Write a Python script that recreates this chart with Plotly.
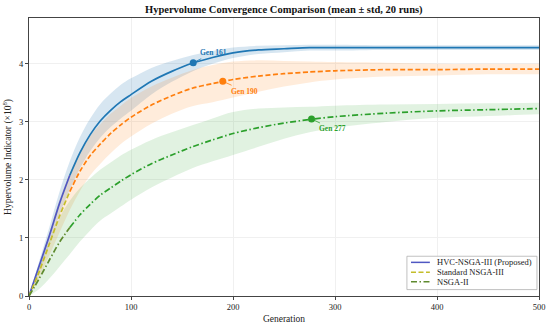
import plotly.graph_objects as go

# ---------------- data ----------------
generations = [0, 10, 20, 30, 40, 50, 60, 70, 80, 90, 100, 120, 140, 160, 180, 200,
               225, 250, 275, 300, 350, 400, 450, 500]

hvc_mean = [0.00, 0.52, 1.04, 1.60, 2.08, 2.47, 2.78, 3.02, 3.20, 3.35, 3.47, 3.70,
            3.87, 4.01, 4.11, 4.19, 4.24, 4.26, 4.28, 4.28, 4.28, 4.28, 4.28, 4.28]
hvc_std = [0.00, 0.08, 0.15, 0.20, 0.24, 0.27, 0.28, 0.29, 0.29, 0.29, 0.28, 0.23,
           0.18, 0.14, 0.11, 0.09, 0.07, 0.06, 0.05, 0.05, 0.04, 0.04, 0.04, 0.04]

nsga3_mean = [0.00, 0.42, 0.90, 1.38, 1.80, 2.15, 2.42, 2.62, 2.80, 2.95, 3.08, 3.29,
              3.45, 3.58, 3.66, 3.73, 3.79, 3.83, 3.86, 3.88, 3.90, 3.90, 3.91, 3.91]
nsga3_std = [0.00, 0.10, 0.20, 0.28, 0.32, 0.34, 0.34, 0.34, 0.34, 0.33, 0.33, 0.32,
             0.31, 0.31, 0.32, 0.31, 0.27, 0.22, 0.18, 0.15, 0.12, 0.10, 0.09, 0.09]

nsga2_mean = [0.00, 0.30, 0.62, 0.93, 1.18, 1.40, 1.58, 1.74, 1.86, 1.98, 2.09, 2.28,
              2.43, 2.57, 2.69, 2.80, 2.90, 2.98, 3.04, 3.09, 3.15, 3.19, 3.21, 3.23]
nsga2_std = [0.00, 0.18, 0.32, 0.42, 0.46, 0.46, 0.45, 0.44, 0.44, 0.44, 0.43, 0.41,
             0.39, 0.37, 0.37, 0.37, 0.33, 0.27, 0.22, 0.19, 0.15, 0.12, 0.11, 0.10]

series_names = ["HVC-NSGA-III (Proposed)", "Standard NSGA-III", "NSGA-II"]
marker_gens = [161, 190, 277]
marker_vals = [4.02, 3.70, 3.05]
marker_labels = ["Gen 161", "Gen 190", "Gen 277"]

x_ticks = [0, 100, 200, 300, 400, 500]
y_ticks = [0, 1, 2, 3, 4]

# ---------------- styling ----------------
FONT = "Liberation Serif"
main_colors = ["#1f77b4", "#ff7f0e", "#2ca02c"]
early_colors = ["#4f57c2", "#c4bd2a", "#5e8a2e"]
band_colors = ["rgba(31,119,180,0.18)", "rgba(255,127,14,0.15)", "rgba(44,160,44,0.14)"]
dashes = ["solid", "5px,2.5px", "6px,2.5px,1.5px,2.5px"]
early_cut = 4  # index of generation 40

means = [hvc_mean, nsga3_mean, nsga2_mean]
stds = [hvc_std, nsga3_std, nsga2_std]

fig = go.Figure()

# bands
for m, s, bc in zip(means, stds, band_colors):
    upper = [a + b for a, b in zip(m, s)]
    lower = [max(a - b, 0) for a, b in zip(m, s)]
    fig.add_trace(go.Scatter(x=generations, y=upper, mode="lines", line=dict(width=0, shape="spline"),
                             showlegend=False, hoverinfo="skip"))
    fig.add_trace(go.Scatter(x=generations, y=lower, mode="lines", line=dict(width=0, shape="spline"),
                             fill="tonexty", fillcolor=bc, showlegend=False, hoverinfo="skip"))

# lines
for m, c, ec, d, nm in zip(means, main_colors, early_colors, dashes, series_names):
    fig.add_trace(go.Scatter(x=generations[early_cut:], y=m[early_cut:], mode="lines",
                             line=dict(color=c, width=1.7, dash=d, shape="spline", smoothing=0.8),
                             showlegend=False, name=nm))
    fig.add_trace(go.Scatter(x=generations[:early_cut + 1], y=m[:early_cut + 1], mode="lines",
                             line=dict(color=ec, width=1.7, dash=d, shape="spline", smoothing=0.8),
                             showlegend=False, name=nm))

# markers
for g, v, c in zip(marker_gens, marker_vals, main_colors):
    fig.add_trace(go.Scatter(x=[g], y=[v], mode="markers", marker=dict(color=c, size=7),
                             showlegend=False))

annots = []
offsets = [(20, -10), (22, 10), (21, 10)]
for g, v, c, t, (ax, ay) in zip(marker_gens, marker_vals, main_colors, marker_labels, offsets):
    annots.append(dict(x=g, y=v, xref="x", yref="y", text="<b>%s</b>" % t, showarrow=True,
                       arrowhead=0, arrowwidth=0.8, arrowcolor=c, ax=ax, ay=ay,
                       font=dict(family=FONT, size=7.5, color=c)))

# custom legend (compact, like the reference)
shapes = [dict(type="rect", xref="paper", yref="paper", x0=0.741, x1=0.996, y0=0.023, y1=0.143,
               line=dict(color="#b0b0b0", width=0.8), fillcolor="rgba(255,255,255,0.85)", layer="above")]
leg_y = [0.121, 0.0855, 0.051]
for ly, ec, d, nm in zip(leg_y, early_colors, dashes, series_names):
    shapes.append(dict(type="line", xref="paper", yref="paper", x0=0.749, x1=0.786, y0=ly, y1=ly,
                       line=dict(color=ec, width=1.5, dash=d), layer="above"))
    annots.append(dict(x=0.796, y=ly, xref="paper", yref="paper", text=nm, showarrow=False,
                       xanchor="left", yanchor="middle", font=dict(family=FONT, size=8.5, color="#222")))

fig.update_layout(
    width=550, height=324,
    margin=dict(l=29, r=11, t=18, b=28),
    paper_bgcolor="white", plot_bgcolor="white",
    font=dict(family=FONT, size=9, color="#222"),
    title=dict(text="<b>Hypervolume Convergence Comparison (mean ± std, 20 runs)</b>",
               x=0.516, xanchor="center", y=0.972, yanchor="middle",
               font=dict(family=FONT, size=10.5, color="#111")),
    shapes=shapes, annotations=annots, showlegend=False,
)
fig.update_xaxes(range=[0, 500], tickvals=x_ticks, showgrid=True, gridcolor="#f0f0f0", gridwidth=0.6,
                 zeroline=False, showline=True, linecolor="#444", linewidth=1, mirror=True,
                 ticks="outside", ticklen=3, tickcolor="#444", tickfont=dict(size=8.5),
                 title=dict(text="Generation", font=dict(size=9.5), standoff=4), automargin=False)
fig.update_yaxes(range=[0, 4.79], tickvals=y_ticks, showgrid=True, gridcolor="#f0f0f0", gridwidth=0.6,
                 zeroline=False, showline=True, linecolor="#444", linewidth=1, mirror=True,
                 ticks="outside", ticklen=3, tickcolor="#444", tickfont=dict(size=8.5),
                 title=dict(text="Hypervolume Indicator (×10<sup>8</sup>)", font=dict(size=9.5), standoff=5),
                 automargin=False)

fig.write_html("out.html", config={"displayModeBar": False},
               post_script="document.body.style.margin='0';")
